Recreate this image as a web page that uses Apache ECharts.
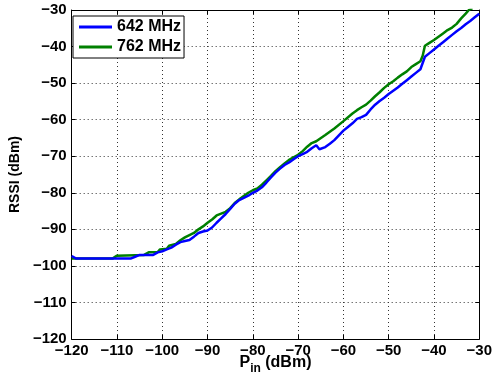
<!DOCTYPE html>
<html><head><meta charset="utf-8">
<script src="https://cdn.jsdelivr.net/npm/echarts@6/dist/echarts.min.js"></script>
<style>html,body{margin:0;padding:0;background:#fff}#c{width:495px;height:386px}</style>
</head><body><div id="c"></div>
<script>
const seriesNames = ['642 MHz', '762 MHz'];
const xTicks = [-120, -110, -100, -90, -80, -70, -60, -50, -40, -30];
const yTicks = [-120, -110, -100, -90, -80, -70, -60, -50, -40, -30];

const pin642 = [-120,-119,-107,-106,-105,-102,-101,-100,-99,-98,-97,-96,-95,-94,-93,-92,-91,-90,-89,-88,-87,-86,-85,-84,-83,-82,-81,-80,-79,-78,-77,-76,-75,-74,-73,-72,-71,-70,-69,-68,-67,-66,-65.3,-64,-63,-62,-61,-60,-59,-58,-57,-56,-55,-54,-53,-52,-51,-50,-49,-48,-47,-46,-45,-44,-43,-42.5,-42,-41,-40,-39,-38,-37,-36,-35,-34,-33,-32,-31,-30];
const rssi642 = [-97.3,-98,-98,-97.5,-97,-97,-96.3,-96,-95.5,-95,-94.2,-93.5,-93.2,-92.9,-92,-91,-90.6,-90.3,-89.5,-88.2,-87,-85.8,-84.4,-83,-82,-81.4,-80.8,-80,-79.4,-78.5,-77.2,-75.8,-74.5,-73.4,-72.4,-71.7,-70.8,-70,-69.4,-68.8,-67.8,-67,-68.1,-67.5,-66.6,-65.6,-64.3,-63,-62,-61,-59.8,-59.3,-58.7,-57.2,-55.9,-54.9,-54,-53,-52.1,-51.2,-50.2,-49.2,-48.2,-47.2,-46.2,-44.5,-42.8,-41.8,-40.8,-39.8,-38.8,-37.8,-36.8,-35.8,-34.9,-33.9,-33,-32,-31];

const pin762 = [-120,-111,-110,-104,-103,-101,-100.5,-99,-98.5,-97,-96,-95,-94,-93,-92,-91,-90,-89,-88,-87,-86,-85,-84,-83,-82,-81,-80,-79,-78,-77,-76,-75,-74,-73,-72,-71,-70,-69,-68,-67,-66,-64,-62,-60,-58,-57,-56,-55,-54,-53,-52,-51,-50,-49,-48,-47,-46,-45,-44,-43,-42.5,-42,-41,-40,-39,-38,-37,-36,-35,-34,-33,-32.3,-31.5];
const rssi762 = [-98,-98,-97.2,-97,-96.3,-96.2,-95.5,-95.3,-94.5,-94,-93,-92.2,-91.6,-91,-90,-89.2,-88.2,-87.3,-86.2,-85.7,-85.2,-84.2,-82.8,-81.8,-80.9,-80,-79.3,-78.8,-77.8,-76.6,-75.4,-74.1,-73,-72,-71,-70.3,-69.6,-68.6,-67.4,-66.4,-65.9,-64.2,-62.4,-60.4,-58.3,-57.4,-56.6,-55.9,-54.8,-53.6,-52.5,-51.3,-50.3,-49.5,-48.5,-47.6,-46.8,-45.6,-44.8,-44,-42.5,-39.8,-39,-38.2,-37.3,-36.4,-35.5,-34.8,-33.8,-32.3,-31,-30,-29.5];

const zip = (a, b) => a.map((v, i) => [v, b[i]]);
const fmt = v => String(v).replace('-', '\u2212');
const FONT = 'Liberation Sans, Arial, sans-serif';
const gridDotted = {show: true, lineStyle: {color: '#333', type: [1, 3], width: 1}};

const chart = echarts.init(document.getElementById('c'), null, {renderer: 'canvas'});
chart.setOption({
  animation: false,
  backgroundColor: '#fff',
  grid: {left: 68, right: 7, top: 10, bottom: 47, containLabel: false},
  legend: {
    data: seriesNames,
    orient: 'vertical',
    left: 73, top: 16,
    backgroundColor: '#fff',
    borderColor: '#000', borderWidth: 1,
    padding: [3, 3, 3, 6],
    itemGap: 4,
    itemWidth: 33, itemHeight: 3,
    icon: 'rect',
    textStyle: {fontFamily: FONT, fontWeight: 'bold', fontSize: 16, color: '#000'}
  },
  xAxis: [{
    type: 'value', min: -120, max: -30, interval: 10,
    axisLine: {show: true, lineStyle: {color: '#000', width: 1}},
    axisTick: {show: true, inside: true, length: 4, lineStyle: {color: '#000'}},
    axisLabel: {formatter: fmt, fontFamily: FONT, fontWeight: 'bold', fontSize: 15, color: '#000', margin: 4},
    splitLine: gridDotted,
    name: '{a|P}{b|in}{a| (dBm)}',
    nameLocation: 'middle', nameGap: 12, nameMoveOverlap: false,
    nameTextStyle: {rich: {
      a: {fontFamily: FONT, fontWeight: 'bold', fontSize: 16, color: '#000'},
      b: {fontFamily: FONT, fontWeight: 'bold', fontSize: 12, color: '#000', padding: [12, 0, 0, 0]}
    }}
  }, {
    type: 'value', position: 'top', min: -120, max: -30, interval: 10,
    axisLine: {show: true, lineStyle: {color: '#000', width: 1}},
    axisTick: {show: true, inside: true, length: 4, lineStyle: {color: '#000'}},
    axisLabel: {show: false}, splitLine: {show: false}
  }],
  yAxis: [{
    type: 'value', min: -120, max: -30, interval: 10,
    axisLine: {show: true, lineStyle: {color: '#000', width: 1}},
    axisTick: {show: true, inside: true, length: 4, lineStyle: {color: '#000'}},
    axisLabel: {formatter: fmt, fontFamily: FONT, fontWeight: 'bold', fontSize: 15, color: '#000', margin: 5},
    splitLine: gridDotted,
    name: 'RSSI (dBm)', nameLocation: 'middle', nameGap: 47, nameRotate: 90,
    nameTextStyle: {fontFamily: FONT, fontWeight: 'bold', fontSize: 14, color: '#000'}
  }, {
    type: 'value', position: 'right', min: -120, max: -30, interval: 10,
    axisLine: {show: true, lineStyle: {color: '#000', width: 1}},
    axisTick: {show: true, inside: true, length: 4, lineStyle: {color: '#000'}},
    axisLabel: {show: false}, splitLine: {show: false}
  }],
  series: [{
    name: seriesNames[0], type: 'line', data: zip(pin642, rssi642),
    showSymbol: false, symbol: 'none', clip: true,
    lineStyle: {color: '#0000ff', width: 2.5}, itemStyle: {color: '#0000ff'}, z: 3
  }, {
    name: seriesNames[1], type: 'line', data: zip(pin762, rssi762),
    showSymbol: false, symbol: 'none', clip: true,
    lineStyle: {color: '#008000', width: 2.5}, itemStyle: {color: '#008000'}, z: 2
  }]
});
</script></body></html>
